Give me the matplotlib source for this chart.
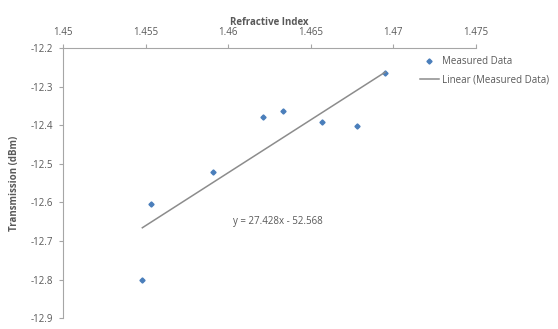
import numpy as np
import matplotlib
matplotlib.use('Agg')
import matplotlib.pyplot as plt

# measured points
refractive_index = [1.4548, 1.4553, 1.4591, 1.4621, 1.4633, 1.4657, 1.4678, 1.4695]
transmission = [-12.80, -12.605, -12.52, -12.378, -12.363, -12.392, -12.402, -12.265]

# linear trendline coefficients
slope = 27.428
intercept = -52.568

plt.rcParams['font.family'] = ['Open Sans', 'DejaVu Sans']
grey = '#595959'
axis_col = '#a6a6a6'

fig = plt.figure(figsize=(5.58, 3.29), dpi=100)
ax = fig.add_axes([0.113, 0.033, 0.740, 0.821])

ax.plot(refractive_index, transmission, linestyle='none', marker='D', markersize=2.6,
        color='#4a7ebb', label='Measured Data')

xfit = np.array([min(refractive_index), max(refractive_index)])
ax.plot(xfit, slope * xfit + intercept, color='#8c8c8c', linewidth=1.1,
        label='Linear (Measured Data)')

ax.text(1.4603, -12.655, 'y = 27.428x - 52.568', fontsize=7, color=grey)

ax.set_xlim(1.45, 1.475)
ax.set_ylim(-12.9, -12.2)
ax.set_xticks([1.45, 1.455, 1.46, 1.465, 1.47, 1.475])
ax.set_xticklabels(['1.45', '1.455', '1.46', '1.465', '1.47', '1.475'])
ax.set_yticks(np.arange(-12.9, -12.15, 0.1))
ax.set_yticklabels(['-12.9', '-12.8', '-12.7', '-12.6', '-12.5', '-12.4', '-12.3', '-12.2'])

ax.xaxis.tick_top()
ax.xaxis.set_label_position('top')
ax.spines['bottom'].set_visible(False)
ax.spines['right'].set_visible(False)
ax.spines['top'].set_color(axis_col)
ax.spines['left'].set_color(axis_col)
ax.tick_params(axis='both', colors=axis_col, labelcolor=grey, labelsize=7,
               length=3, width=0.8, pad=4)

ax.set_xlabel('Refractive Index', fontsize=7, fontweight='bold', color=grey, labelpad=2)
ax.set_ylabel('Transmission (dBm)', fontsize=7, fontweight='bold', color=grey, labelpad=8)

ax.legend(loc='upper left', bbox_to_anchor=(0.752, 0.83), bbox_transform=fig.transFigure,
          frameon=False, fontsize=7, labelcolor=grey, handlelength=2.0,
          handletextpad=0.3, labelspacing=0.8, borderpad=0, borderaxespad=0)

fig.savefig('out.png', dpi=100)
